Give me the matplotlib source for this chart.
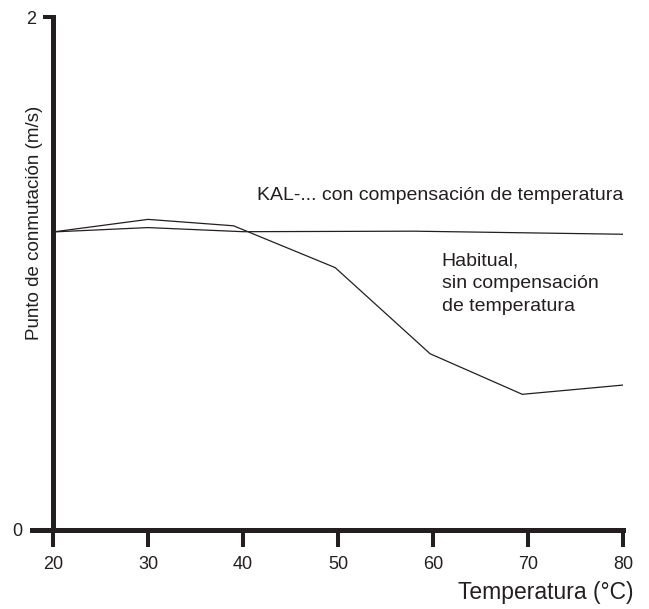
import matplotlib
matplotlib.use('Agg')
import matplotlib.pyplot as plt

# data
temp_comp = [20, 30, 40, 58, 80]
speed_comp = [1.162, 1.179, 1.163, 1.165, 1.153]

temp_std = [20, 30, 39, 49.7, 59.7, 69.4, 80]
speed_std = [1.162, 1.211, 1.186, 1.023, 0.687, 0.529, 0.565]

x_ticks = [20, 30, 40, 50, 60, 70, 80]
y_ticks = [0, 2]

W, H = 649, 609
INK = '#231f20'
fig = plt.figure(figsize=(W / 100, H / 100), dpi=100)
plt.rcParams['font.family'] = ['Liberation Sans', 'DejaVu Sans']

# axes box in pixels: x 20 -> 53px, 80 -> 623px ; y 0 -> 530px, 2 -> 17px
px_per_deg = (623 - 53) / 60
x_left_px = 32
xmin = 20 - (53 - x_left_px) / px_per_deg
y0_px, y2_px = 530, 17
ax = fig.add_axes([x_left_px / W, 1 - y0_px / H, (623 - x_left_px) / W, (y0_px - y2_px) / H])
ax.set_xlim(xmin, 80)
ax.set_ylim(0, 2)

for s in ['top', 'right']:
    ax.spines[s].set_visible(False)
ax.spines['left'].set_position(('data', 20))
for s in ['left', 'bottom']:
    ax.spines[s].set_linewidth(3.6)
    ax.spines[s].set_color(INK)

ax.set_xticks(x_ticks)
ax.set_yticks(y_ticks)
ax.tick_params(axis='x', direction='out', length=12, width=2.9, color=INK,
               labelsize=13, pad=7, labelcolor=INK)
ax.tick_params(axis='y', direction='out', length=7, width=2.9, color=INK,
               labelsize=13, pad=5, labelcolor=INK)
# the "0" sits left of the extended x-axis line
ax.yaxis.get_major_ticks()[0].set_pad(15)

ax.plot(temp_comp, speed_comp, color=INK, lw=0.9)
ax.plot(temp_std, speed_std, color=INK, lw=0.9)

ax.text(80, 1.305, 'KAL-... con compensación de temperatura', ha='right', va='center',
        fontsize=14, color=INK)
ax.text(60.9, 1.08, 'Habitual,\nsin compensación\nde temperatura', ha='left', va='top',
        fontsize=14, color=INK, linespacing=1.42)

fig.text(35 / W, 1 - 223 / H, 'Punto de conmutación (m/s)', rotation=90,
         ha='center', va='center', fontsize=13.5, color=INK)
fig.text(633 / W, 1 - 593 / H, 'Temperatura (°C)', ha='right', va='center',
         fontsize=16.5, color=INK)

fig.savefig('out.png', dpi=100, facecolor='white')
